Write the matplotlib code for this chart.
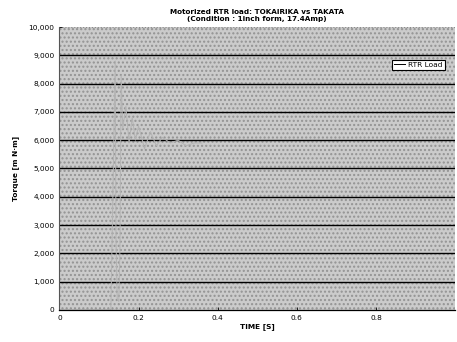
import matplotlib
matplotlib.use("Agg")
import matplotlib.pyplot as plt
from matplotlib.ticker import FuncFormatter
from matplotlib.patches import Rectangle

# values
time_s = [0.0, 0.13, 0.141, 0.143, 0.146, 0.150, 0.153, 0.156, 0.160, 0.168,
          0.176, 0.184, 0.192, 0.20, 0.215, 0.23, 0.245, 0.26, 0.28, 0.30,
          0.32, 0.34, 0.36]
rtr_load = [0, 0, 8800, 2500, 400, 300, 2200, 8300, 6400, 7200,
            5900, 6800, 6000, 6500, 5700, 6300, 5800, 6100, 5900, 6000,
            5800, 5900, 5900]
x_ticks = [0, 0.2, 0.4, 0.6, 0.8]
x_tick_labels = ["0", "0.2", "0.4", "0.6", "0.8"]
y_ticks = list(range(0, 10001, 1000))

fig = plt.figure(figsize=(4.57, 3.42), dpi=100)
ax = fig.add_axes([0.13, 0.094, 0.866, 0.827])
ax.set_facecolor("#cbcbcb")
# stipple-like texture of the scanned background
ax.add_patch(Rectangle((0, 0), 1, 1, transform=ax.transAxes, facecolor="none",
                       edgecolor="#939393", hatch="....", lw=0, zorder=0))

ax.plot(time_s, rtr_load, color="#b3b3b3", lw=0.7, label="RTR Load", zorder=2)

ax.set_xlim(0, 1.0)
ax.set_ylim(0, 10000)
ax.set_xticks(x_ticks)
ax.set_xticklabels(x_tick_labels)
ax.set_yticks(y_ticks)
ax.yaxis.set_major_formatter(FuncFormatter(lambda v, p: f"{int(v):,}"))
# dark gridlines between the frame edges; top edge is only a faint dotted line
ax.hlines(y_ticks[1:-1], 0, 1.0, color="black", lw=1.0, zorder=1)
ax.axhline(y_ticks[-1], color="#8a8a8a", lw=0.8, ls=":", zorder=1)
ax.tick_params(labelsize=5.3, length=2, direction="in", width=0.6)

for side in ["top", "right"]:
    ax.spines[side].set_visible(False)
ax.spines["left"].set_linewidth(0.8)
ax.spines["left"].set_color("#555555")
ax.spines["bottom"].set_linewidth(0.9)

ax.set_xlabel("TIME [S]", fontsize=5.3, fontweight="bold", labelpad=2)
ax.set_ylabel("Torque [m N\u00b7m]", fontsize=5.3, fontweight="bold", labelpad=7)
ax.set_title("Motorized RTR load: TOKAIRIKA vs TAKATA\n(Condition : 1inch form, 17.4Amp)",
             fontsize=5.2, fontweight="bold", pad=4, linespacing=1.3)

leg = ax.legend(loc="upper left", bbox_to_anchor=(0.84, 0.885), fontsize=5.3,
                frameon=True, fancybox=False, handlelength=1.5, borderpad=0.3,
                handletextpad=0.4, borderaxespad=0)
leg.get_frame().set_edgecolor("black")
leg.get_frame().set_linewidth(0.8)
leg.get_frame().set_facecolor("white")
leg.get_frame().set_alpha(1)
leg.get_lines()[0].set_color("black")

fig.savefig("out.png", dpi=100)
